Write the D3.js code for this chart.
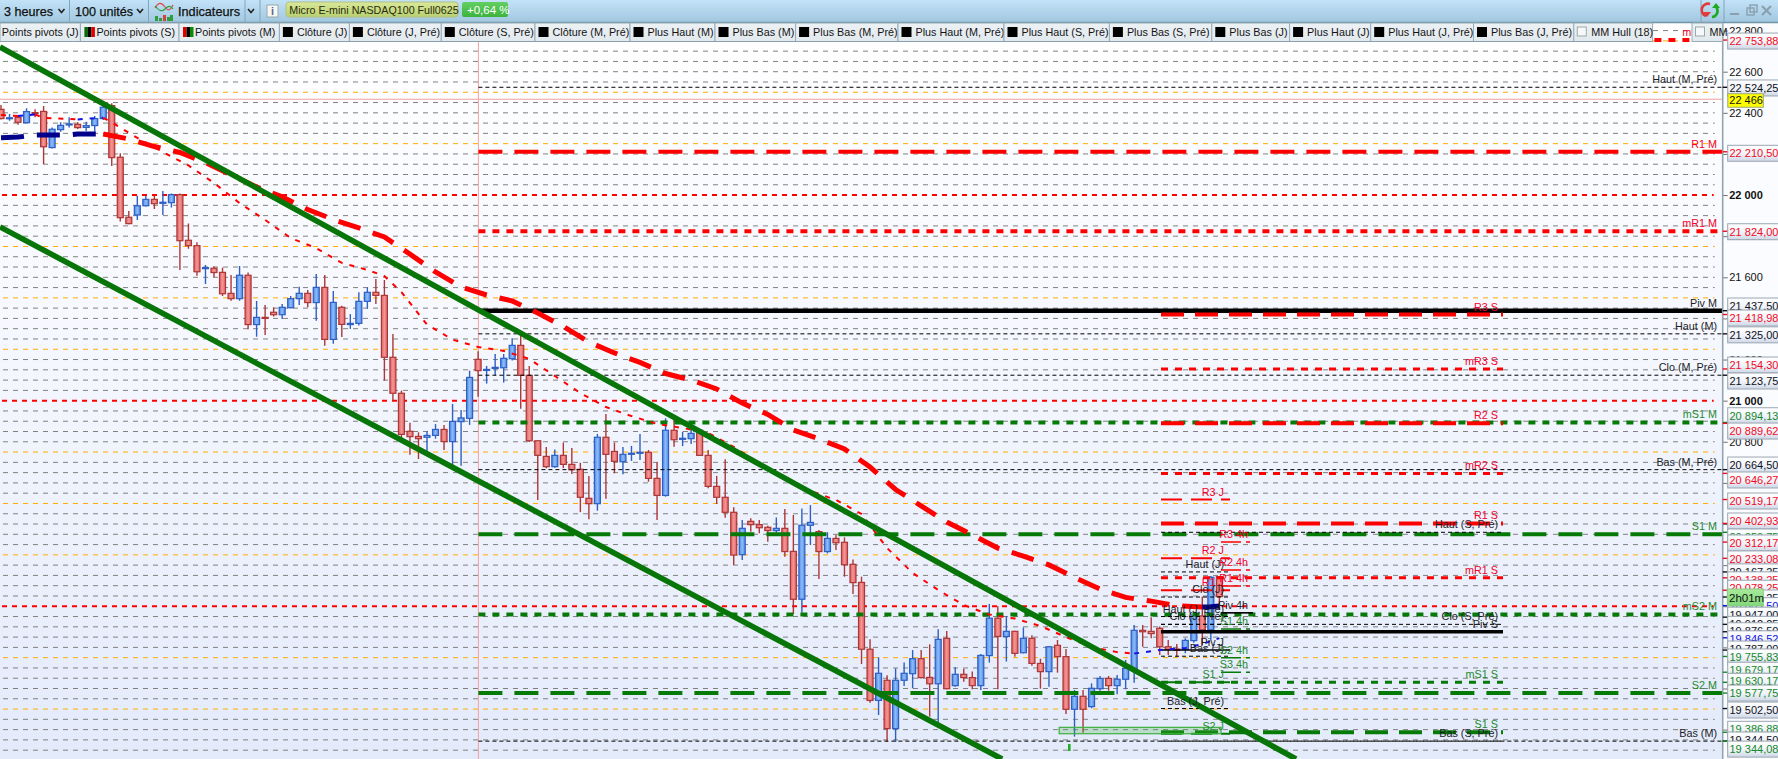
<!DOCTYPE html>
<html><head><meta charset="utf-8">
<style>html,body{margin:0;padding:0;background:#fff;overflow:hidden}svg{display:block}text{font-family:"Liberation Sans",Arial,sans-serif}</style>
<script src="https://cdn.jsdelivr.net/npm/d3@7"></script>
</head><body><script>
const opens=[22417,22372,22378,22352,22401,22407,22231,22318,22341,22344,22329,22338,22372,22435,22184,21892,21903,21948,21979,21960,21963,22002,21780,21754,21642,21644,21624,21522,21496,21610,21370,21405,21430,21418,21452,21496,21522,21477,21551,21298,21454,21370,21376,21483,21527,21512,21211,21036,20851,20826,20822,20831,20860,20801,20898,20914,21201,21148,21157,21160,21204,21269,21123,20805,20729,20679,20734,20690,20666,20525,20499,20822,20753,20703,20739,20744,20749,20622,20539,20856,20812,20815,20856,20734,20583,20530,20457,20251,20413,20397,20384,20368,20379,20267,20034,20394,20363,20266,20330,20311,20204,20116,19791,19542,19640,19405,19640,19672,19745,19654,19623,19844,19614,19669,19653,19614,19760,19942,19853,19878,19774,19844,19722,19682,19810,19755,19499,19562,19512,19599,19649,19614,19645,19696,19883,19878,19893,19803,19792,19790,19833,19953,19885,20144];
const closes=[22372,22376,22354,22406,22396,22235,22320,22339,22346,22328,22338,22372,22427,22182,21890,21861,21948,21979,21958,21965,22002,21778,21754,21627,21647,21623,21520,21496,21610,21370,21405,21400,21418,21454,21496,21522,21477,21551,21298,21478,21371,21376,21483,21527,21512,21211,21036,20836,20825,20815,20831,20860,20801,20899,20916,21113,21146,21152,21162,21206,21269,21123,20805,20734,20679,20734,20690,20664,20530,20499,20822,20739,20705,20739,20744,20749,20622,20539,20856,20810,20817,20841,20734,20583,20530,20457,20249,20379,20397,20382,20368,20379,20266,20034,20394,20408,20266,20330,20309,20202,20115,19791,19542,19674,19405,19640,19674,19745,19653,19623,19839,19599,19669,19653,19614,19761,19942,19853,19878,19771,19844,19722,19682,19803,19755,19499,19562,19499,19601,19649,19614,19645,19698,19883,19876,19867,19803,19790,19786,19834,19953,19885,20141,20047];
const highs=[22438,22394,22385,22422,22417,22433,22329,22354,22378,22354,22357,22385,22443,22446,22203,21922,21997,21997,21995,22020,22008,22008,21862,21770,21660,21652,21647,21611,21655,21623,21485,21465,21454,21470,21509,21554,21538,21616,21611,21533,21462,21421,21527,21551,21592,21587,21324,21049,20893,20846,20851,20886,20882,20984,20955,21146,21240,21169,21227,21227,21303,21314,21169,20805,20775,20763,20796,20770,20698,20634,20838,20935,20796,20775,20780,20838,20760,20700,20914,20927,20849,20865,20857,20760,20634,20715,20481,20420,20428,20420,20392,20432,20473,20444,20476,20492,20371,20360,20347,20335,20228,20144,19839,19752,19664,19698,19726,19787,19787,19815,19888,19880,19703,19696,19683,19768,20011,20000,19953,19881,19897,19859,19745,19807,19836,19792,19593,19593,19625,19661,19661,19666,19739,19909,19909,19946,19901,19836,19816,19844,19966,20047,20147,20147];
const lows=[22368,22362,22342,22352,22378,22151,22227,22308,22328,22321,22312,22308,22365,22141,21871,21858,21879,21944,21932,21903,21939,21636,21739,21608,21567,21600,21509,21486,21486,21347,21311,21319,21409,21397,21449,21465,21454,21389,21267,21277,21310,21349,21365,21447,21470,21097,21000,20809,20737,20716,20750,20815,20760,20679,20684,20882,21019,21083,21122,21088,21195,20961,20799,20517,20671,20674,20672,20643,20458,20423,20465,20523,20647,20642,20707,20711,20606,20420,20533,20776,20779,20789,20733,20574,20497,20431,20201,20225,20363,20355,20314,20358,20241,19962,19969,20298,20133,20257,20274,20144,20060,19719,19531,19471,19341,19341,19612,19601,19649,19463,19414,19596,19609,19633,19596,19593,19726,19596,19731,19755,19771,19711,19599,19609,19677,19476,19366,19385,19504,19589,19589,19572,19596,19628,19803,19844,19763,19763,19755,19771,19823,19812,19836,19982];

const hullSlowIdx=[0,2,4,8,9,12,15,18,21,24,27,30,33,36,39,42,45,48,51,54,57,60,63,66,69,72,75,78,81,84,87,90,93,96,99,102,105,108,111,114,117,120,123,126,129,132,135,138,141,142,143];
const hullSlowVal=[22279,22282,22292,22292,22297,22297,22273,22236,22207,22158,22098,22039,21991,21930,21881,21840,21796,21713,21626,21553,21514,21485,21426,21361,21285,21232,21186,21132,21100,21057,20988,20933,20857,20814,20765,20677,20568,20488,20410,20347,20283,20244,20201,20140,20084,20043,20025,20003,19996,19998,20001];
const hullFastIdx=[0,2,4,5,8,9,10,12,13,16,19,22,25,28,31,34,37,40,43,45,47,50,53,56,59,62,65,68,71,74,77,80,83,86,89,92,95,98,101,104,107,110,113,116,119,122,125,128,131,133,136,139,141,143];
const hullFastVal=[22389,22385,22392,22375,22370,22368,22372,22376,22353,22278,22209,22144,22059,21961,21879,21791,21742,21670,21636,21606,21528,21370,21297,21261,21242,21203,21120,21037,20969,20925,20887,20867,20843,20775,20697,20628,20561,20517,20449,20283,20162,20079,20006,19960,19940,19904,19850,19802,19777,19770,19787,19797,19816,19845];

const trendUpperIdx=[-0.12,152],trendUpperVal=[22720,19257];
const trendLowerIdx=[-0.12,117.5],trendLowerVal=[21845,19257];
const zoneIdx=[124.2,143.2],zoneVal=[19411,19380];

const levelNamesM=["mR2 M","Haut (M, Pré)","R1 M","mR1 M","Piv M","Haut (M)","Clo (M, Pré)","mS1 M","Bas (M, Pré)","S1 M","mS2 M","S2 M","Bas (M)"];
const levelValuesM=[22753.88,22524.25,22210.5,21824,21437.5,21325,21123.75,20894.13,20664.5,20350.75,19960,19577.75,19344];
const levelStylesM=["rd","k","rt","rd","p","k","k","gd","k","gt","gd","gt","k"];
const levelNamesS=["R3 S","mR3 S","R2 S","mR2 S","R1 S","Haut (S, Pré)","mR1 S","Clo (S, Pré)","Piv S","mS1 S","S1 S","Bas (S, Pré)"];
const levelValuesS=[21418.98,21154.3,20889.62,20646.27,20402.93,20359.75,20138.25,19912,19876,19630.17,19386.88,19344];
const levelStylesS=["rt","rd","rt","rd","rt","k","rd","k","p","gd","gt","k"];
const levelNamesJ=["R3 J","R2 J","Haut (J)","R1 J","Clo (J)","Haut (J, Pré)","Clo (J, Pré)","Piv J","Bas (J)","S1 J","Bas (J, Pré)","S2 J"];
const levelValuesJ=[20519.17,20233.08,20167,20078,20045,19950,19912,19787,19757,19630.17,19502.5,19380];
const levelStylesJ=["r","r","k","r","k","k","k","s","k","g","k","g"];
const levelNames4=["R3 4h","R2 4h","R1 4h","Piv 4h","S1 4h","S2 4h","S3 4h"];
const levelValues4=[20312.17,20176,20099,19968,19890,19749,19679.17];
const levelStyles4=["r","r","r","s","g","g","g"];

const axisValues=[22753.88,22524.25,22210.5,21824,21437.5,21418.98,21325,21154.3,21123.75,20894.13,20889.62,20664.5,20646.27,20519.17,20402.93,20359.75,20312.17,20233.08,20167,20138.25,20078,20045,20003,19947,19912,19876,19846.52,19787,19755.83,19679.17,19630.17,19577.75,19502.5,19386.88,19344.5,19344.08];
const axisTexts=["22 753,88","22 524,25","22 210,50","21 824,00","21 437,50","21 418,98","21 325,00","21 154,30","21 123,75","20 894,13","20 889,62","20 664,50","20 646,27","20 519,17","20 402,93","20 359,75","20 312,17","20 233,08","20 167,25","20 138,25","20 078,25","20 045,25","20 003,50","19 947,00","19 912,25","19 876,50","19 846,52","19 787,00","19 755,83","19 679,17","19 630,17","19 577,75","19 502,50","19 386,88","19 344,50","19 344,08"];
const axisColors=["r","k","r","r","k","r","k","r","k","g","r","k","r","r","r","g","r","r","k","r","r","k","b","k","k","k","b","k","g","g","g","g","k","g","k","g"];
const axisShifts=[1,0.7,1.5,0.5,-4.7,3.5,1,-3.9,5.8,-6.7,7.7,-4.6,6.6,1.5,-2.4,4.7,0.9,0.6,0,2,-2,1,0,-2,0,-1,1,-1,0.5,-2,-1,0,1.5,-3,-1,8];
const axisTickValues=d3.range(19400,22801,200);
const lastPrice=22466, lastPriceText="22 466", timerText="2h01m";

const legendNames=["Points pivots (J)","Points pivots (S)","Points pivots (M)","Clôture (J)","Clôture (J, Pré)","Clôture (S, Pré)","Clôture (M, Pré)","Plus Haut (M)","Plus Bas (M)","Plus Bas (M, Pré)","Plus Haut (M, Pré)","Plus Haut (S, Pré)","Plus Bas (S, Pré)","Plus Bas (J)","Plus Haut (J)","Plus Haut (J, Pré)","Plus Bas (J, Pré)","MM Hull (18)","MM"];

/* ---------- layout ---------- */
const W=1778,H=759,axisX=1722.7,barH=23,legH=18.5;
const swatch=[null,["#0a6a0a","#000","#e00000"],["#e00000","#000","#0a8a0a"],"k","k","k","k","k","k","k","k","k","k","k","k","k","k","o","o"];
const legendEdges=[0,80.4,179,279.4,349.4,441.3,535,630,715,795.6,898,1004,1109.4,1211.8,1289.6,1370.7,1473.5,1573.8,1652.6];

const x=d3.scaleLinear().domain([0,143]).range([1,1+8.52*143]);
const y=d3.scaleLinear().domain([22800,19000]).range([30.58,811.86]);

const svg=d3.select("body").append("svg").attr("width",W).attr("height",H).attr("viewBox",`0 0 ${W} ${H}`);
const defs=svg.append("defs");
function grad(id,stops,horizontal){const g=defs.append("linearGradient").attr("id",id).attr("x1",0).attr("y1",0).attr("x2",horizontal?1:0).attr("y2",horizontal?0:1);
 stops.forEach(s=>g.append("stop").attr("offset",s[0]).attr("stop-color",s[1]));}
grad("bg",[[0,"#ffffff"],[0.4,"#f6f8fe"],[1,"#e3eafa"]]);
grad("bar",[[0,"#c2e2f8"],[1,"#a0c6de"]]);
grad("cellg",[[0,"#ecf1f4"],[1,"#e2e9ee"]]);
grad("up",[[0,"#4f88e6"],[0.5,"#8cbcf8"],[1,"#4f88e6"]],true);
grad("dn",[[0,"#e05f5f"],[0.5,"#f49696"],[1,"#e05f5f"]],true);
grad("box",[[0,"#ffffff"],[0.55,"#f0f3f9"],[1,"#cfd7e6"]]);
grad("tagy",[[0,"#d9e89a"],[1,"#b8d070"]]);
grad("tagg",[[0,"#62cf62"],[1,"#3db23d"]]);
grad("tmr",[[0,"#a6ea9a"],[1,"#82d87a"]]);
defs.append("clipPath").attr("id","plot").append("rect").attr("x",0).attr("y",barH).attr("width",axisX).attr("height",H-barH);

svg.append("rect").attr("width",W).attr("height",H).attr("fill","#fff");
svg.append("rect").attr("y",barH).attr("width",axisX).attr("height",H-barH).attr("fill","url(#bg)");

const plot=svg.append("g").attr("clip-path","url(#plot)");

/* grid */
const COL={r:"#ff0000",g:"#067a06",k:"#000"};
const gridG=plot.append("g");
d3.range(19300,22851,50).forEach(v=>{
  const kind=v%1000===0?"red":v%250===0?"or":"gr";
  gridG.append("line").attr("x1",kind==="red"?2:3).attr("x2",axisX-(kind==="red"?9:8)).attr("y1",y(v)).attr("y2",y(v))
   .attr("stroke",kind==="red"?"#ff0000":kind==="or"?"#ffab00":"#808080")
   .attr("stroke-width",kind==="red"?2:1).attr("stroke-dasharray","5 5");
});
/* crosshair */
const crossX=478.4;
plot.append("line").attr("x1",crossX).attr("x2",crossX).attr("y1",barH).attr("y2",H).attr("stroke","#f4a0a0").attr("stroke-width",1);
plot.append("line").attr("x1",0).attr("x2",axisX).attr("y1",y(lastPrice)).attr("y2",y(lastPrice)).attr("stroke","#f4a0a0").attr("stroke-width",1);

/* candles */
const cg=plot.append("g");
opens.forEach((o,i)=>{
  const c=closes[i],up=c>=o,col=up?"#2d5fc4":"#ad3636",px=x(i),t=y(Math.max(o,c)),b=y(Math.min(o,c));
  cg.append("line").attr("x1",px).attr("x2",px).attr("y1",y(highs[i])).attr("y2",y(lows[i])).attr("stroke",col).attr("stroke-width",1.4);
  cg.append("rect").attr("x",px-3).attr("width",6).attr("y",t).attr("height",Math.max(b-t,1)).attr("fill",`url(#${up?"up":"dn"})`).attr("stroke",col).attr("stroke-width",1.2);
});

/* levels */
function drawLevels(vals,styles,x0,x1,mode){
  vals.forEach((v,i)=>{
    const st=styles[i];let col,w,dash=null;
    if(st==="k"){col="#000";w=1;dash="4 3";}
    else if(st==="p"){col="#000";w=mode==="M"?4.5:3.4;}
    else if(st==="s"){col="#000";w=1.6;}
    else if(st==="rt"||st==="gt"){col=COL[st[0]];w=4;dash=mode==="M"?"24 12":"23 11";}
    else if(st==="rd"||st==="gd"){col=COL[st[0]];w=mode==="M"?4:3;dash="7 7";}
    else {col=COL[st];w=mode==="4"?1.5:2;dash=mode==="4"?"20 5 4 5":"21 9";}
    plot.append("line").attr("x1",x0).attr("x2",x1).attr("y1",y(v)).attr("y2",y(v)).attr("stroke",col).attr("stroke-width",w).attr("stroke-dasharray",dash);
  });
}
drawLevels(levelValuesM,levelStylesM,crossX,axisX,"M");
drawLevels(levelValuesS,levelStylesS,1161,1503,"S");
drawLevels(levelValuesJ,levelStylesJ,1161,1230,"J");
drawLevels(levelValues4,levelStyles4,1221,1253,"4");

/* hull curves, split in rising and falling runs */
function runs(idx,val){const out=[];let cur=null;
  for(let k=1;k<idx.length;k++){const up=val[k]>=val[k-1];
    if(!cur||cur.up!==up){cur={up,pts:[[idx[k-1],val[k-1]]]};out.push(cur);}
    cur.pts.push([idx[k],val[k]]);}
  return out;}
const line=d3.line().x(d=>x(d[0])).y(d=>y(d[1]));
runs(hullSlowIdx,hullSlowVal).forEach(r=>plot.append("path").attr("d",line(r.pts)).attr("fill","none")
  .attr("stroke",r.up?"#00008b":"#ff0000").attr("stroke-width",5).attr("stroke-dasharray","23 13"));
runs(hullFastIdx,hullFastVal).forEach(r=>plot.append("path").attr("d",line(r.pts)).attr("fill","none")
  .attr("stroke",r.up?"#1414e6":"#ff0000").attr("stroke-width",2).attr("stroke-dasharray","5 7"));

/* green zone and marker */
plot.append("rect").attr("x",x(zoneIdx[0])).attr("width",x(zoneIdx[1])-x(zoneIdx[0])).attr("y",y(zoneVal[0])).attr("height",y(zoneVal[1])-y(zoneVal[0]))
  .attr("fill","#3fb03f").attr("fill-opacity",.25).attr("stroke","#3fb03f").attr("stroke-width",1.2);
plot.append("rect").attr("x",1068).attr("y",744).attr("width",2.6).attr("height",7).attr("fill","#22b022");

/* trendlines */
[[trendUpperIdx,trendUpperVal],[trendLowerIdx,trendLowerVal]].forEach(t=>{
  plot.append("line").attr("x1",x(t[0][0])).attr("x2",x(t[0][1])).attr("y1",y(t[1][0])).attr("y2",y(t[1][1])).attr("stroke","#087508").attr("stroke-width",5.6);
});

/* level labels */
function labels(names,vals,styles,right){
  names.forEach((n,i)=>{const st=styles[i],c=st[0];
    const col=c==="r"?"#f4002a":c==="g"?"#1f8a2e":"#1c1c28";
    plot.append("text").attr("x",right).attr("y",y(vals[i])-4).attr("text-anchor","end").attr("font-size",10.8).attr("fill",col).text(n);});
}
labels(levelNamesM,levelValuesM,levelStylesM,1717);
labels(levelNamesS,levelValuesS,levelStylesS,1498);
labels(levelNamesJ,levelValuesJ,levelStylesJ,1224);
labels(levelNames4,levelValues4,levelStyles4,1248);

/* right axis */
svg.append("rect").attr("x",axisX).attr("y",barH).attr("width",W-axisX).attr("height",H-barH).attr("fill","#fbfcff");
const axisG=svg.append("g").attr("transform",`translate(${axisX},0)`)
  .call(d3.axisRight(y).tickValues(axisTickValues).tickSize(5).tickPadding(1.5).tickFormat(v=>d3.format("d")(Math.floor(v/1000))+" "+d3.format("03d")(v%1000)));
axisG.select(".domain").remove();
axisG.selectAll("line").attr("stroke","#707070");
axisG.selectAll("text").attr("font-size",11).attr("fill","#111").attr("font-family",'"Liberation Sans",Arial,sans-serif')
  .attr("font-weight",d=>d%1000===0?"bold":"normal");
svg.append("line").attr("x1",axisX).attr("x2",axisX).attr("y1",barH).attr("y2",H).attr("stroke","#94a4ae").attr("stroke-width",1.6);

const boxCol={r:"#f20a1e",k:"#10101a",g:"#15882a",b:"#1414e0"};
axisValues.forEach((v,i)=>{
  const cy=y(v)+axisShifts[i],c=boxCol[axisColors[i]];
  svg.append("line").attr("x1",axisX).attr("x2",axisX+5).attr("y1",y(v)).attr("y2",y(v)).attr("stroke",c).attr("stroke-width",1.4);
  svg.append("rect").attr("x",axisX+5).attr("y",cy-8).attr("width",W-axisX-4).attr("height",16).attr("fill","url(#box)").attr("stroke","#9aa6b2").attr("stroke-width",1);
  svg.append("text").attr("x",axisX+6.8).attr("y",cy+4).attr("font-size",11).attr("fill",c).text(axisTexts[i]);
});
/* yellow last price and timer */
svg.append("rect").attr("x",1727.8).attr("y",y(lastPrice)-5.5).attr("width",35.5).attr("height",13.5).attr("fill","#ffff00").attr("stroke","#9aa67a");
svg.append("text").attr("x",1729.3).attr("y",y(lastPrice)+5).attr("font-size",11).attr("fill","#111").text(lastPriceText);
svg.append("rect").attr("x",1727.3).attr("y",589).attr("width",36).attr("height",17).attr("fill","url(#tmr)").attr("stroke","#8bc986");
svg.append("text").attr("x",1729).attr("y",602).attr("font-size",11.5).attr("fill","#111").text(timerText);

/* top toolbar */
svg.append("rect").attr("width",W).attr("height",barH).attr("fill","url(#bar)");
svg.append("line").attr("x1",0).attr("x2",W).attr("y1",barH-.5).attr("y2",barH-.5).attr("stroke","#6f94a8").attr("stroke-width",1.4);
const tb=svg.append("g");
function tbText(t,xx,size,col){tb.append("text").attr("x",xx).attr("y",16).attr("font-size",size).attr("fill",col||"#111").attr("stroke",col||"#111").attr("stroke-width",.25).text(t);}
function caret(xx){tb.append("path").attr("d",`M${xx-3},9 L${xx},12.5 L${xx+3},9`).attr("fill","none").attr("stroke","#222").attr("stroke-width",1.6);}
function vsep(xx){tb.append("line").attr("x1",xx).attr("x2",xx).attr("y1",0).attr("y2",barH-1).attr("stroke","#7fa6bd");}
tbText("3 heures",4,12.6);caret(61.5);vsep(69.5);
tbText("100 unités",75,12.6);caret(140);vsep(148.5);
tb.append("path").attr("d","M155,8 C159,1 162,3 165,7 S170,11 173,5").attr("fill","none").attr("stroke","#e04848").attr("stroke-width",1.2);
tb.append("path").attr("d","M155,6 C159,11 162,12 165,9 S170,5 173,9").attr("fill","none").attr("stroke","#2e9e3e").attr("stroke-width",1.2);
[[155,16,5],[159,18,3],[163,15,6],[167,17,4],[170,15,6]].forEach(b=>tb.append("rect").attr("x",b[0]).attr("y",b[1]).attr("width",3).attr("height",b[2]).attr("fill",b[0]===163?"#d84040":"#2e9e3e"));
tbText("Indicateurs",178,12.7);vsep(245);caret(251);vsep(260);
tb.append("rect").attr("x",267).attr("y",5).attr("width",11).attr("height",12).attr("fill","#f5f7f8").attr("stroke","#9aa");
tb.append("text").attr("x",272.5).attr("y",15).attr("text-anchor","middle").attr("font-size",11).attr("font-weight","bold").attr("fill","#667").text("i");
tb.append("rect").attr("x",286).attr("y",2).attr("width",172).attr("height",15).attr("rx",3).attr("fill","url(#tagy)").attr("stroke","#b0c080");
tb.append("text").attr("x",289.3).attr("y",14).attr("font-size",10.7).attr("fill","#2a2a10").text("Micro E-mini NASDAQ100 Full0625");
tb.append("rect").attr("x",462).attr("y",2).attr("width",46).attr("height",15).attr("rx",2).attr("fill","url(#tagg)");
tb.append("text").attr("x",467).attr("y",14).attr("font-size",11.5).attr("fill","#fff").text("+0,64 %");
vsep(1701);vsep(1724);
tb.append("path").attr("d","M1710,4 A6,6 0 0 0 1706,16").attr("fill","none").attr("stroke","#e03a3a").attr("stroke-width",2.6);
tb.append("path").attr("d","M1712,17 A6,6 0 0 0 1716,7").attr("fill","none").attr("stroke","#1eaa1e").attr("stroke-width",2.6);
tb.append("path").attr("d","M1712,8 L1716,3 L1720,8 Z").attr("fill","#1eaa1e");
tb.append("path").attr("d","M1703,12 L1707,17 L1711,12 Z").attr("fill","#e03a3a");
tb.append("rect").attr("x",1730).attr("y",13).attr("width",9).attr("height",2).attr("fill","#8aa0ae");
tb.append("rect").attr("x",1747).attr("y",8).attr("width",7).attr("height",7).attr("fill","none").attr("stroke","#8aa0ae").attr("stroke-width",1.4);
tb.append("rect").attr("x",1750).attr("y",5).attr("width",7).attr("height",7).attr("fill","none").attr("stroke","#8aa0ae").attr("stroke-width",1.4);
tb.append("path").attr("d","M1762,6 L1771,15 M1771,6 L1762,15").attr("stroke","#8aa0ae").attr("stroke-width",2.2);

/* legend row */
const lg=svg.append("g");
function cell(x0,x1,name,sw){
  lg.append("rect").attr("x",x0).attr("y",barH).attr("width",x1-x0).attr("height",legH).attr("fill","url(#cellg)").attr("stroke","#98acb8").attr("stroke-width",1);
  let tx=x0+1.8;
  if(Array.isArray(sw)){sw.forEach((c,k)=>lg.append("rect").attr("x",x0+4+k*3.5).attr("y",27).attr("width",3.5).attr("height",10).attr("fill",c));tx=x0+16;}
  else if(sw==="k"){lg.append("rect").attr("x",x0+3.5).attr("y",27).attr("width",10).attr("height",10).attr("fill","#000");tx=x0+17.5;}
  else if(sw==="o"){lg.append("rect").attr("x",x0+3.5).attr("y",27).attr("width",9).attr("height",9).attr("fill","#f6f8f9").attr("stroke","#9aa");tx=x0+17.5;}
  lg.append("text").attr("x",tx).attr("y",36).attr("font-size",10.8).attr("fill","#141414").text(name);
}
legendNames.forEach((n,i)=>{
  if(i<18) cell(legendEdges[i],legendEdges[i+1],n,swatch[i]);
  else cell(1692,axisX,n,swatch[i]);
});
svg.append("line").attr("x1",0).attr("x2",1653).attr("y1",barH+legH).attr("y2",barH+legH).attr("stroke","#8a9fac").attr("stroke-width",1.2);
</script></body></html>
